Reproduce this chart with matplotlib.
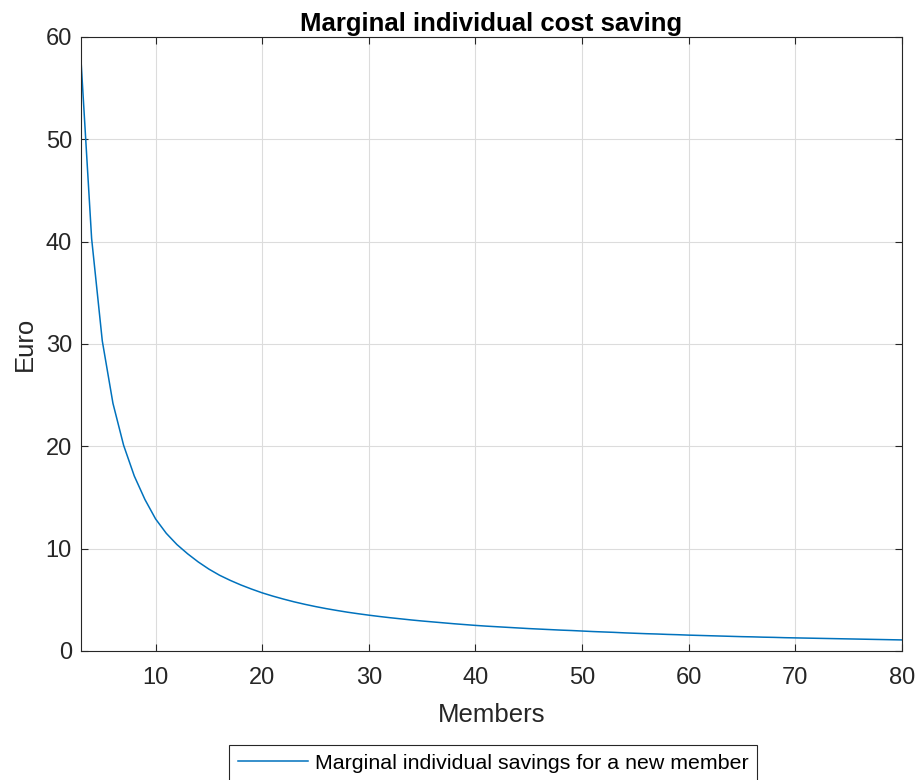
import matplotlib
matplotlib.use("Agg")
import matplotlib.pyplot as plt

members = list(range(3, 81))
savings = [57.8, 40.3, 30.3, 24.2, 20.1, 17.1, 14.8, 12.9, 11.5, 10.4,
           9.5, 8.7, 8.0, 7.4, 6.9, 6.45, 6.05, 5.68, 5.36, 5.07,
           4.80, 4.56, 4.34, 4.14, 3.96, 3.79, 3.64,
           3.50, 3.37, 3.25, 3.14, 3.03, 2.93, 2.84, 2.75, 2.66, 2.58,
           2.50, 2.43, 2.37, 2.31, 2.25, 2.19, 2.14, 2.09, 2.04, 2.00,
           1.95, 1.90, 1.86, 1.82, 1.77, 1.73, 1.69, 1.66, 1.62, 1.59,
           1.55, 1.52, 1.49, 1.46, 1.43, 1.40, 1.38, 1.35, 1.33, 1.30,
           1.28, 1.26, 1.24, 1.22, 1.20, 1.18, 1.16, 1.14, 1.12, 1.10, 1.08]
xticks = [10, 20, 30, 40, 50, 60, 70, 80]
yticks = [0, 10, 20, 30, 40, 50, 60]

plt.rcParams['font.family'] = ['Liberation Sans', 'DejaVu Sans']

fig = plt.figure(figsize=(9.19, 7.80), dpi=100)
ax = fig.add_axes([0.0881, 0.1654, 0.8934, 0.7872])
ax.plot(members, savings, color='#0072BD', lw=1.1,
        label='Marginal individual savings for a new member')
ax.set_xlim(3, 80)
ax.set_ylim(0, 60)
ax.set_xticks(xticks)
ax.set_yticks(yticks)
ax.grid(True, color='#DCDCDC', lw=0.8)
ax.set_axisbelow(True)
ax.tick_params(direction='in', top=True, right=True, length=5, width=0.8,
               labelsize=17, colors='#262626')
ax.tick_params(axis='x', pad=11.5)
ax.tick_params(axis='y', pad=6.5)
for s in ax.spines.values():
    s.set_color('#262626')
    s.set_linewidth(0.8)
ax.set_title('Marginal individual cost saving', fontsize=18.5, fontweight='bold', pad=4)
ax.set_xlabel('Members', fontsize=18.5, color='#262626', labelpad=10)
ax.set_ylabel('Euro', fontsize=18.5, color='#262626', labelpad=6)
leg = fig.legend(loc='upper center', bbox_to_anchor=(0.5365, 1 - 745 / 780), fontsize=15.4,
                 fancybox=False, edgecolor='#262626', framealpha=1,
                 handlelength=3.27, handletextpad=0.33, borderpad=0.4, borderaxespad=0)
leg.get_frame().set_linewidth(0.8)
fig.savefig('out.png', dpi=100)
